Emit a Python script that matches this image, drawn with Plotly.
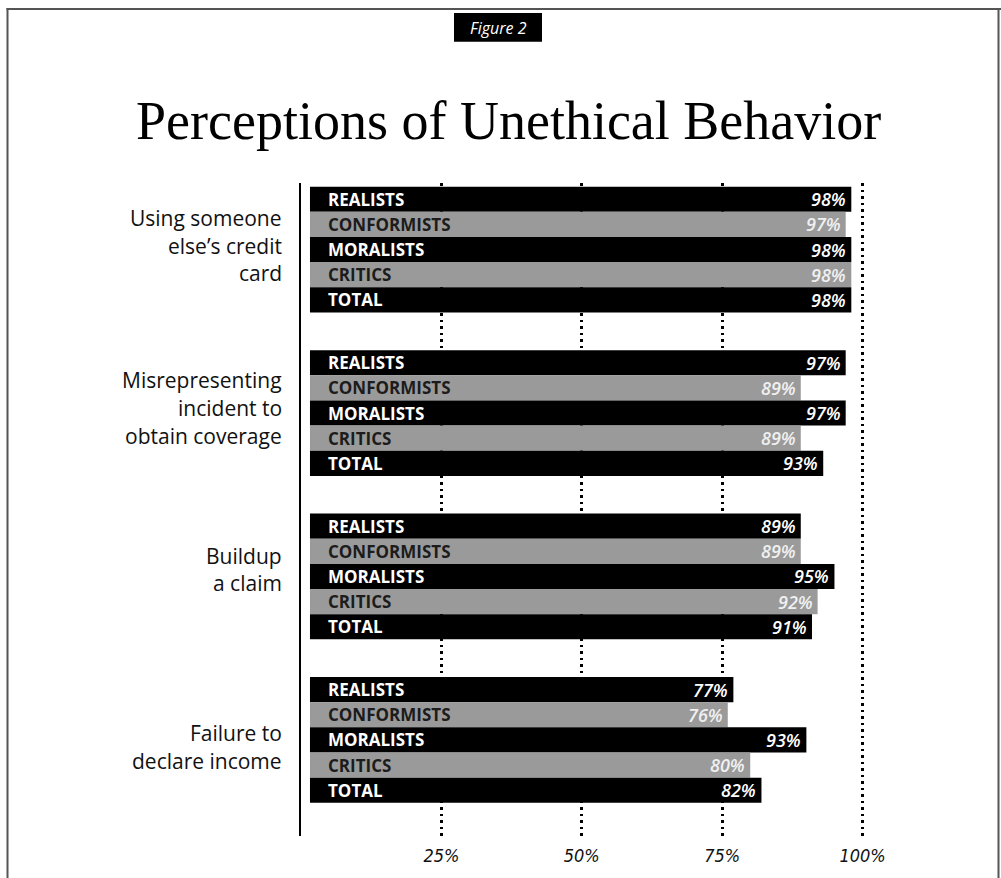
import plotly.graph_objects as go

# ---------------- data ----------------
CATEGORIES = [
    "Using someone<br>else’s credit<br>card",
    "Misrepresenting<br>incident to<br>obtain coverage",
    "Buildup<br>a claim",
    "Failure to<br>declare income",
]
SERIES = ["REALISTS", "CONFORMISTS", "MORALISTS", "CRITICS", "TOTAL"]

# bar lengths as drawn in the picture (percent)
CREDIT_CARD = [98, 97, 98, 98, 98]
MISREPRESENTING = [97, 89, 97, 89, 93]
BUILDUP = [89, 89, 95, 92, 91]
FAILURE_TO_DECLARE = [77, 76, 90, 80, 82]

# printed value labels
CREDIT_CARD_LABELS = ["98%", "97%", "98%", "98%", "98%"]
MISREPRESENTING_LABELS = ["97%", "89%", "97%", "89%", "93%"]
BUILDUP_LABELS = ["89%", "89%", "95%", "92%", "91%"]
FAILURE_TO_DECLARE_LABELS = ["77%", "76%", "93%", "80%", "82%"]

TICK_VALUES = [25, 50, 75, 100]
TICK_LABELS = ["25%", "50%", "75%", "100%"]

TITLE = "Perceptions of Unethical Behavior"
FIGURE_TAG = "Figure 2"

GROUP_VALUES = [CREDIT_CARD, MISREPRESENTING, BUILDUP, FAILURE_TO_DECLARE]
GROUP_LABELS = [CREDIT_CARD_LABELS, MISREPRESENTING_LABELS, BUILDUP_LABELS,
                FAILURE_TO_DECLARE_LABELS]

# ---------------- style / layout ----------------
FIG_W, FIG_H = 1001, 878
M_L, M_R, M_T, M_B = 301, 116, 183, 38
PLOT_W = FIG_W - M_L - M_R
PLOT_H = FIG_H - M_T - M_B
X_RANGE = [0, 104]
Y_RANGE = [25.32, -0.646]
BAR_START = 1.6
GROUP_PITCH = 6.5
LABEL_YSHIFT = [4, 5, 7, -7]
LABEL_LINE_PX = 27.6

BLACK = "#000000"
GRAY = "#9a9a9a"
SERIES_COLORS = [BLACK, GRAY, BLACK, GRAY, BLACK]
NAME_COLORS = ["#ffffff", "#1c1c1c", "#ffffff", "#1c1c1c", "#ffffff"]
VALUE_COLORS = ["#ffffff", "#f0f0f0", "#ffffff", "#f0f0f0", "#ffffff"]

NAME_FONT = "Open Sans, Noto Sans, sans-serif"
VALUE_FONT = "Open Sans, Noto Sans, sans-serif"
NARROW_FONT = "Liberation Sans Narrow, DejaVu Sans Condensed, Arial Narrow, sans-serif"
LABEL_FONT = "Open Sans, Noto Sans, sans-serif"
TITLE_FONT = "Liberation Serif, Times New Roman, serif"


def px_x(p):
    return (p - M_L) / PLOT_W


def px_y(p):
    return 1 - (p - M_T) / PLOT_H


ys, xs, colors = [], [], []
annotations = []
for g, (vals, labs) in enumerate(zip(GROUP_VALUES, GROUP_LABELS)):
    for k, (name, v, lab) in enumerate(zip(SERIES, vals, labs)):
        y = g * GROUP_PITCH + k
        ys.append(y)
        xs.append(v - BAR_START)
        colors.append(SERIES_COLORS[k])
        annotations.append(dict(
            x=BAR_START, y=y, xref="x", yref="y", text=name, showarrow=False,
            xanchor="left", yanchor="middle", xshift=16,
            font=dict(family=NAME_FONT, size=17, color=NAME_COLORS[k], weight=700)))
        annotations.append(dict(
            x=v, y=y, xref="x", yref="y", text=lab, showarrow=False,
            xanchor="right", yanchor="middle", xshift=-3,
            font=dict(family=VALUE_FONT, size=18, color=VALUE_COLORS[k],
                      style="italic", weight=600)))
    lines = CATEGORIES[g].split("<br>")
    n = len(lines)
    for i, line in enumerate(lines):
        annotations.append(dict(
            x=0, y=g * GROUP_PITCH + (len(SERIES) - 1) / 2, xref="x", yref="y",
            text=line, showarrow=False, align="right",
            xanchor="right", yanchor="middle", xshift=-17,
            yshift=LABEL_YSHIFT[g] - (i - (n - 1) / 2) * LABEL_LINE_PX,
            font=dict(family=LABEL_FONT, size=21, color="#111111")))

# title and figure tag
annotations.append(dict(
    x=px_x(508), y=px_y(121), xref="paper", yref="paper", text=TITLE,
    showarrow=False, xanchor="center", yanchor="middle",
    font=dict(family=TITLE_FONT, size=54, color="#000000")))
annotations.append(dict(
    x=px_x(498), y=px_y(27), xref="paper", yref="paper", text=FIGURE_TAG,
    showarrow=False, xanchor="center", yanchor="middle",
    font=dict(family=LABEL_FONT, size=16, color="#ffffff", style="italic")))

shapes = [
    # figure tag box
    dict(type="rect", xref="paper", yref="paper",
         x0=px_x(454), x1=px_x(542), y0=px_y(12), y1=px_y(41),
         fillcolor="#000000", line=dict(width=0), layer="below"),
    # outer frame: left, top, right
    dict(type="line", xref="paper", yref="paper",
         x0=px_x(7.5), x1=px_x(7.5), y0=px_y(7), y1=px_y(900),
         line=dict(color="#555555", width=2)),
    dict(type="line", xref="paper", yref="paper",
         x0=px_x(6.5), x1=px_x(1001), y0=px_y(8), y1=px_y(8),
         line=dict(color="#555555", width=2)),
    dict(type="line", xref="paper", yref="paper",
         x0=px_x(998.5), x1=px_x(998.5), y0=px_y(7), y1=px_y(900),
         line=dict(color="#555555", width=2)),
]

fig = go.Figure(go.Bar(
    orientation="h", y=ys, x=xs, base=BAR_START, width=1,
    marker=dict(color=colors, line=dict(width=0)),
    hoverinfo="skip", showlegend=False))

fig.update_layout(
    width=FIG_W, height=FIG_H, autosize=False,
    margin=dict(l=M_L, r=M_R, t=M_T, b=M_B, pad=0),
    paper_bgcolor="#ffffff", plot_bgcolor="#ffffff",
    annotations=annotations, shapes=shapes, showlegend=False,
    xaxis=dict(range=X_RANGE, tickvals=TICK_VALUES, ticktext=TICK_LABELS,
               showgrid=True, gridcolor="#000000", gridwidth=2.5,
               griddash="2.5px,4px", zeroline=False, showline=False,
               ticks="outside", ticklen=3, tickcolor="rgba(0,0,0,0)",
               tickfont=dict(family=NARROW_FONT, size=18, color="#111111",
                             style="italic"),
               fixedrange=True),
    yaxis=dict(range=Y_RANGE, showticklabels=False, showgrid=False,
               zeroline=False, showline=True, linecolor="#000000",
               linewidth=2, ticks="", fixedrange=True),
)

fig.write_html("out.html", config={"displayModeBar": False},
               post_script="document.body.style.margin='0';")
